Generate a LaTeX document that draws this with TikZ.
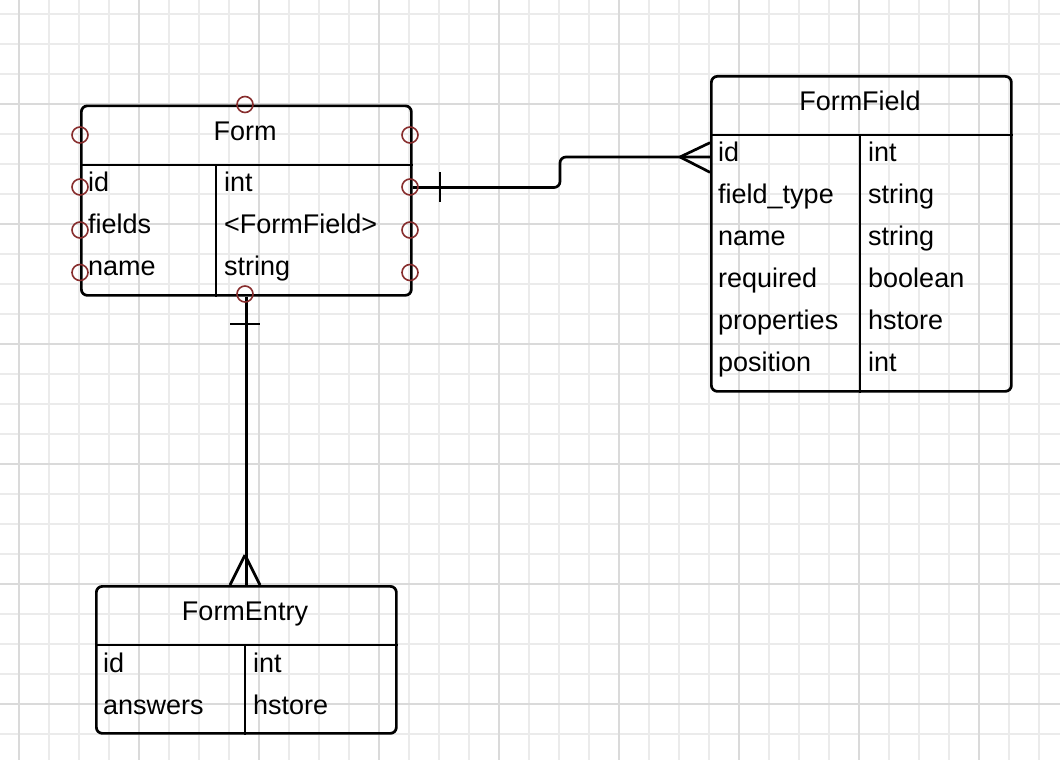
\documentclass[tikz,border=0pt]{standalone}
\usepackage{fontspec}
\setmainfont{Liberation Sans}
\definecolor{gridminor}{RGB}{235,235,235}
\definecolor{gridmajor}{RGB}{218,218,218}
\definecolor{portred}{RGB}{135,45,45}
\begin{document}
\begin{tikzpicture}[x=1pt,y=-1pt,
  ent/.style={draw, line width=2.7pt, rounded corners=6pt, inner sep=0pt, anchor=north west},
  sep/.style={line width=2.7pt},
  conn/.style={line width=2.7pt},
  txt/.style={anchor=base west, inner sep=0pt, font=\fontsize{27}{31}\selectfont},
  ttl/.style={anchor=base, inner sep=0pt, font=\fontsize{27}{31}\selectfont},
  port/.style={draw=portred, line width=1.6pt},
  gmin/.style={draw=gridminor, line width=1.5pt},
  gmaj/.style={draw=gridmajor, line width=1.5pt}]
\useasboundingbox (0,0) rectangle (1060,760);
\fill[white] (0,0) rectangle (1060,760);
% grid
\foreach \x in {19,49,...,1049} \draw[gmin] (\x,0) -- (\x,760);
\foreach \y in {14,44,...,754} \draw[gmin] (0,\y) -- (1060,\y);
\foreach \x in {19,139,...,1019} \draw[gmaj] (\x,0) -- (\x,760);
\foreach \y in {104,224,...,704} \draw[gmaj] (0,\y) -- (1060,\y);

% Form entity
\node[ent, minimum width=330pt, minimum height=189.5pt] (form) at (80,104.5) {};
\draw[sep] (form.west |- 0,165) -- (form.east |- 0,165);
\draw[sep] (216,165) -- (form.south -| 216,0);
\node[ttl] (formT) at (245,140) {Form};
\node[txt] (f1a) at (88,191.5) {id};
\node[txt] (f1b) at (224,191.5) {int};
\node[txt] (f2a) at (88,233.5) {fields};
\node[txt] (f2b) at (224,233.5) {<FormField>};
\node[txt] (f3a) at (88,275.5) {name};
\node[txt] (f3b) at (224,275.5) {string};

% FormField entity
\node[ent, minimum width=300pt, minimum height=315pt] (ffield) at (710,75) {};
\draw[sep] (ffield.west |- 0,135) -- (ffield.east |- 0,135);
\draw[sep] (860,135) -- (ffield.south -| 860,0);
\node[ttl] (ffT) at (860,110.7) {FormField};
\node[txt] (g1a) at (718,161) {id};
\node[txt] (g1b) at (868,161) {int};
\node[txt] (g2a) at (718,203) {field\_type};
\node[txt] (g2b) at (868,203) {string};
\node[txt] (g3a) at (718,245) {name};
\node[txt] (g3b) at (868,245) {string};
\node[txt] (g4a) at (718,287) {required};
\node[txt] (g4b) at (868,287) {boolean};
\node[txt] (g5a) at (718,329) {properties};
\node[txt] (g5b) at (868,329) {hstore};
\node[txt] (g6a) at (718,371) {position};
\node[txt] (g6b) at (868,371) {int};

% FormEntry entity
\node[ent, minimum width=300pt, minimum height=147pt] (fentry) at (95,585) {};
\draw[sep] (fentry.west |- 0,645) -- (fentry.east |- 0,645);
\draw[sep] (245,645) -- (fentry.south -| 245,0);
\node[ttl] (feT) at (245,620.5) {FormEntry};
\node[txt] (e1a) at (103,672.5) {id};
\node[txt] (e1b) at (253,672.5) {int};
\node[txt] (e2a) at (103,714.5) {answers};
\node[txt] (e2b) at (253,714.5) {hstore};

% connector Form -> FormField
\coordinate (pR) at (form.east |- 0,187.5);
\coordinate (ffid) at (ffield.west |- 0,157);
\coordinate (crowA) at (680,157);
\draw[conn, rounded corners=6pt] (pR) -- (560,187.5) -- (560,157) -- (ffid);
\draw[conn] (440,172) -- (440,202);
\draw[conn] (crowA) -- (ffield.west |- 0,142.7);
\draw[conn] (crowA) -- (ffield.west |- 0,172.3);

% connector Form -> FormEntry
\coordinate (pB) at (form.south);
\coordinate (feTop) at (fentry.north);
\coordinate (crowB) at (245,555);
\draw[conn] (pB) -- (feTop);
\draw[conn] (230,324) -- (260,324);
\draw[conn] (crowB) -- (fentry.north -| 230,0);
\draw[conn] (crowB) -- (fentry.north -| 260,0);

% ports
\foreach \p in {(245,104.5),(80,135),(410,135),(80,187),(410,187),(80,230),(410,230),(80,272.5),(410,272.5),(245,294)}
  \draw[port] \p circle (8pt);
\end{tikzpicture}
\end{document}
